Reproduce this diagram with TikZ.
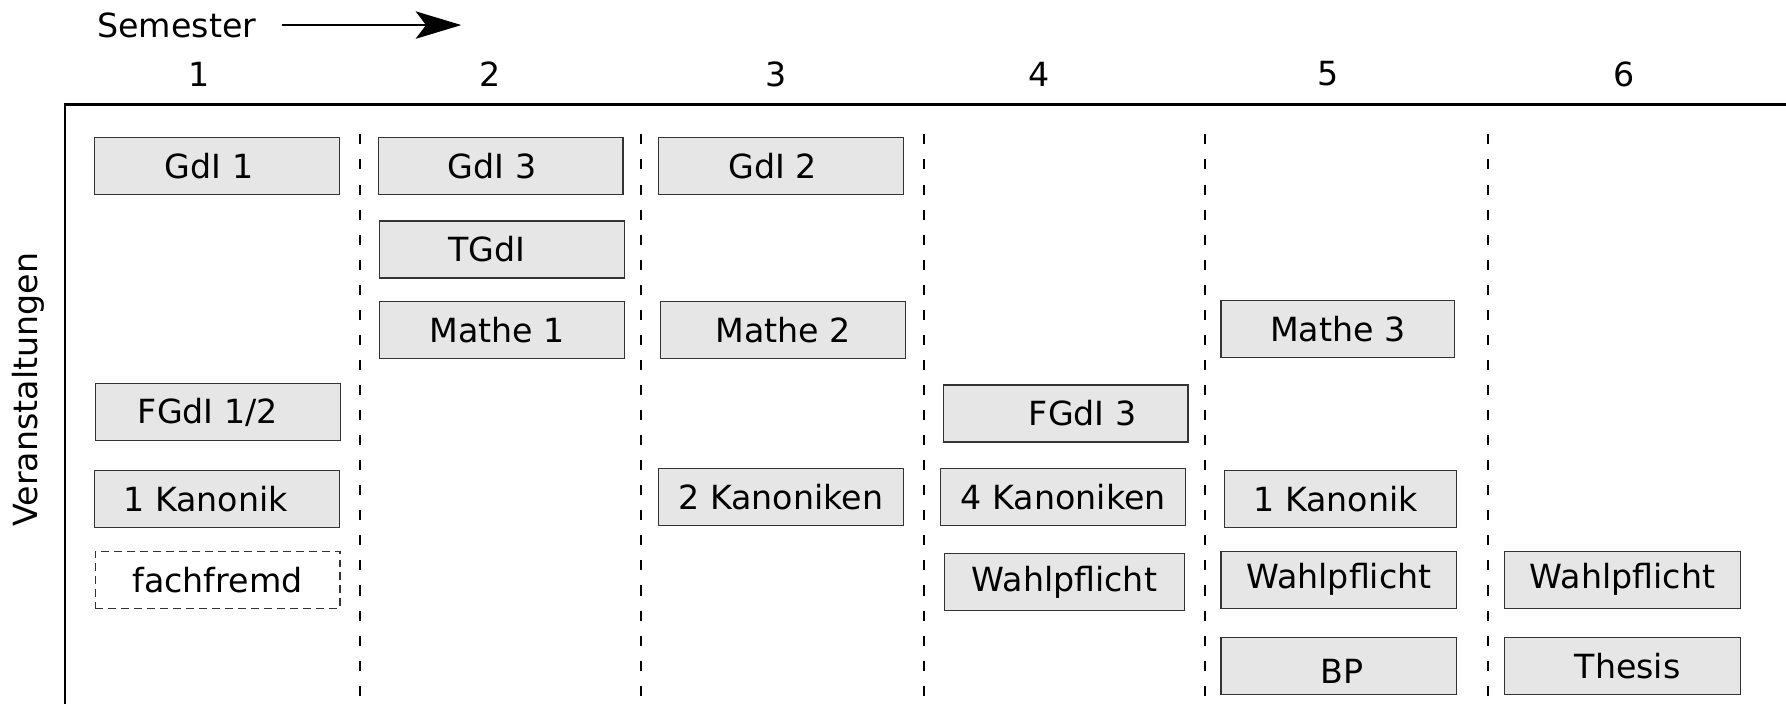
\documentclass[tikz,border=0pt]{standalone}
\usepackage{fontspec}
\setmainfont{DejaVu Sans}
\usetikzlibrary{arrows.meta}
\usepackage{xcolor}
\definecolor{boxfill}{HTML}{E6E6E6}
\definecolor{boxline}{HTML}{333333}

\tikzset{
  course/.style={draw=boxline, fill=boxfill, line width=0.5pt, minimum width=107.5pt, minimum height=25pt, inner sep=0pt},
  optional/.style={course, fill=white, dash pattern=on 3.5pt off 2.2pt},
  narrow/.style={minimum width=103.5pt},
  semline/.style={line width=0.9pt, dash pattern=on 4.4pt off 6.6pt},
}

\begin{document}
\begin{tikzpicture}[x=0.5pt, y=-0.5pt, font=\fontsize{14.6}{17}\selectfont]
\useasboundingbox (0,0) rectangle (1568,618);
% header
\node[anchor=west, inner sep=0pt] (sem) at (85,22) {Semester};
\coordinate (semend) at (405,22);
\draw[line width=1pt, -{Stealth[length=20pt,width=12pt,inset=4.5pt]}, shorten <=11pt] (sem.east) -- (semend);
\foreach \n/\x in {1/175, 2/430, 3/681, 4/912, 5/1166, 6/1426} {
  \node (s\n) at (\x,65) {\n};
}
% frame
\draw[line width=1.2pt] (1568,92) -- (57,92) -- (57,618);
\node[rotate=90] (veran) at (25,342) {Veranstaltungen};
\foreach \x in {316, 563, 811, 1058, 1306} {
  \draw[semline] (\x,118) -- (\x,618);
}
% semester 1
\node[course, label={[xshift=-3.5pt]center:GdI 1}] (gdla) at (190.5,145.5) {};
\node[course, label={[xshift=-4.5pt]center:FGdI 1/2}] (fgdla) at (191.5,362) {};
\node[course, label={[xshift=-5pt]center:1 Kanonik}] (kana) at (190.5,438) {};
\node[optional] (fremd) at (191,509) {fachfremd};
% semester 2
\node[course, label={[xshift=-3.7pt]center:GdI 3}] (gdlc) at (439.5,145.5) {};
\node[course, label={[xshift=-6.5pt]center:TGdI}] (tgdl) at (440.5,219) {};
\node[course, label={[xshift=-2pt]center:Mathe 1}] (matha) at (440.5,290) {};
% semester 3
\node[course, label={[xshift=-3.5pt]center:GdI 2}] (gdlb) at (685.5,145.5) {};
\node[course] (mathb) at (687.5,290) {Mathe 2};
\node[course] (kanb) at (685.5,436) {2 Kanoniken};
% semester 4
\node[course, label={[xshift=7.5pt]center:FGdI 3}] (fgdlc) at (935.5,363) {};
\node[course] (kanc) at (933.5,436) {4 Kanoniken};
\node[course, minimum width=105.5pt] (wpa) at (934.5,511) {Wahlpflicht};
% semester 5
\node[course, minimum width=102.5pt] (mathc) at (1174.5,289) {Mathe 3};
\node[course, minimum width=102pt, label={[xshift=-2.2pt]center:1 Kanonik}] (kand) at (1177,438) {};
\node[course, narrow] (wpb) at (1175.5,509) {Wahlpflicht};
\node[course, narrow, label={[xshift=1.5pt, yshift=-2pt]center:BP}] (bp) at (1175.5,585) {};
% semester 6
\node[course, narrow] (wpc) at (1424.5,509) {Wahlpflicht};
\node[course, narrow, label={[xshift=2.2pt]center:Thesis}] (thesis) at (1424.5,585) {};
\end{tikzpicture}
\end{document}
